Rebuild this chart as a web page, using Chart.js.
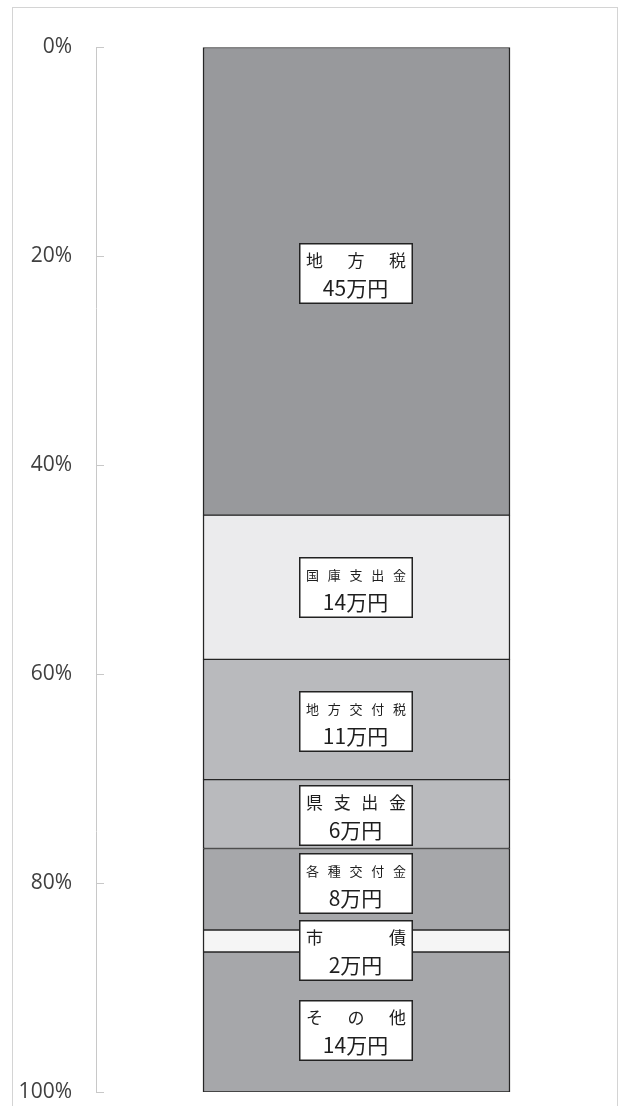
<!DOCTYPE html>
<html lang="ja">
<head>
<meta charset="UTF-8">
<title>歳入の内訳</title>
<script src="https://cdn.jsdelivr.net/npm/chart.js"></script>
<style>
  html, body { margin: 0; padding: 0; background: #fff; }
  .wrap { position: absolute; left: 0; top: 0; width: 618px; height: 1106px; }
  .frame { position: absolute; left: 12px; top: 7px; width: 604px; height: 1110px;
           border: 1px solid #d4d4d4; pointer-events: none; }
</style>
</head>
<body>
<div class="wrap">
  <canvas id="chart" width="618" height="1106"></canvas>
</div>
<div class="frame"></div>

<script>
// 歳入の内訳（割合 %）
const items = ['地方税', '国庫支出金', '地方交付税', '県支出金', '各種交付金', '市債', 'その他'];
const shares = [44.8, 13.8, 11.5, 6.6, 7.8, 2.1, 13.4];
const amounts = [45, 14, 11, 6, 8, 2, 14]; // 万円
const yTicks = [0, 20, 40, 60, 80, 100];

// 見た目
const fills = ['#98999c', '#ebebed', '#b9babd', '#b9babd', '#a6a7aa', '#f5f5f5', '#a6a7aa'];
const labelShift = [-8, 0, 2, 1, -6, 10, 9]; // ラベル箱の上下ずらし(px)

// y軸の目盛り線（軸の内側に出る短い線）
const tickMarks = {
    id: 'tickMarks',
    afterDraw(chart) {
        const { ctx, scales: { y } } = chart;
        ctx.save();
        ctx.strokeStyle = '#c8c8c8';
        ctx.lineWidth = 1;
        y.ticks.forEach((t, i) => {
            const py = Math.round(y.getPixelForTick(i)) + 0.5;
            ctx.beginPath();
            ctx.moveTo(y.right, py);
            ctx.lineTo(y.right + 8, py);
            ctx.stroke();
        });
        ctx.restore();
    }
};

// 白い箱のラベル
const boxLabels = {
    id: 'boxLabels',
    afterDatasetsDraw(chart) {
        const ctx = chart.ctx;
        const bw = 114, bh = 61;
        chart.data.datasets.forEach((ds, i) => {
            const bar = chart.getDatasetMeta(i).data[0];
            const cx = bar.x - 1;
            const cy = (bar.y + bar.base) / 2 + labelShift[i];
            const left = Math.round(cx - bw / 2);
            const top = Math.round(cy - bh / 2);
            ctx.save();
            ctx.fillStyle = '#fff';
            ctx.fillRect(left, top, bw, bh);
            ctx.strokeStyle = '#222';
            ctx.lineWidth = 1.5;
            ctx.strokeRect(left + 0.75, top + 0.75, bw - 1.5, bh - 1.5);

            // 項目名（箱の幅いっぱいに均等割り）
            const chars = [...items[i]];
            const size = chars.length >= 5 ? 13 : 17;
            ctx.fillStyle = '#1e1e1e';
            ctx.font = size + 'px "Noto Sans CJK JP"';
            ctx.textBaseline = 'middle';
            ctx.textAlign = 'left';
            const inL = left + 7, inR = left + bw - 7;
            const step = (inR - inL - size) / (chars.length - 1);
            chars.forEach((c, k) => ctx.fillText(c, inL + k * step, top + 18));

            // 金額
            ctx.font = '21px "Noto Sans CJK JP"';
            ctx.textAlign = 'center';
            ctx.fillText(amounts[i] + '万円', cx, top + 45);
            ctx.restore();
        });
    }
};

const ctx = document.getElementById('chart').getContext('2d');
new Chart(ctx, {
    type: 'bar',
    data: {
        labels: [''],
        datasets: items.map((name, i) => ({
            label: name,
            data: [shares[i]],
            backgroundColor: fills[i],
            borderColor: '#262626',
            borderWidth: { left: 1.5, right: 1.5, top: 1, bottom: 1 },
            borderSkipped: false,
            barThickness: 307
        }))
    },
    options: {
        responsive: false,
        animation: false,
        layout: { padding: { left: 0, right: 1, top: 47, bottom: 14 } },
        plugins: {
            legend: { display: false },
            tooltip: { enabled: false },
            title: { display: false }
        },
        scales: {
            x: { stacked: true, display: false },
            y: {
                stacked: true,
                reverse: true,
                min: 0,
                max: 100,
                afterBuildTicks: s => { s.ticks = yTicks.map(v => ({ value: v })); },
                afterFit: s => { s.width = 96; },
                ticks: {
                    padding: 0,
                    color: '#404040',
                    font: { family: '"Open Sans"', size: 21 },
                    callback: v => v + '%'
                },
                grid: { display: true, drawOnChartArea: false, drawTicks: true,
                        tickLength: 24, tickColor: 'rgba(0,0,0,0)' },
                border: { display: true, color: '#c8c8c8', width: 1 }
            }
        }
    },
    plugins: [tickMarks, boxLabels]
});
</script>
</body>
</html>
